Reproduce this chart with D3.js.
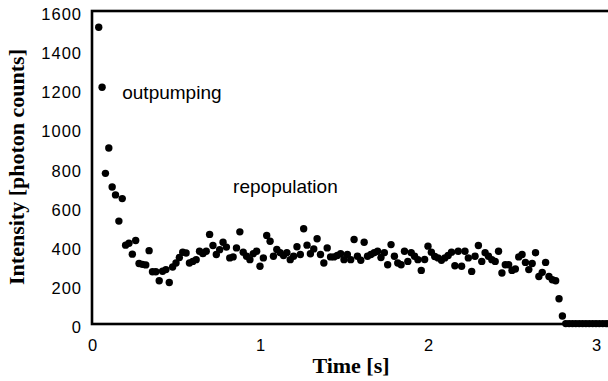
<!DOCTYPE html>
<html>
<head>
<meta charset="utf-8">
<script src="https://cdn.jsdelivr.net/npm/d3@7"></script>
<style>
  body { margin: 0; background: #fff; }
  svg { display: block; }
</style>
</head>
<body>
<div id="chart"></div>
<script>
// measured intensities, time in seconds
var time = [0.04, 0.06, 0.08, 0.10, 0.12, 0.14, 0.16, 0.18, 0.20, 0.22, 0.24, 0.26, 0.28, 0.30, 0.32, 0.34, 0.36, 0.38, 0.40, 0.42,
            0.44, 0.46, 0.48, 0.50, 0.52, 0.54, 0.56, 0.58, 0.60, 0.62, 0.64, 0.66, 0.68, 0.70, 0.72, 0.74, 0.76, 0.78, 0.80, 0.82,
            0.84, 0.86, 0.88, 0.90, 0.92, 0.94, 0.96, 0.98, 1.00, 1.02, 1.04, 1.06, 1.08, 1.10, 1.12, 1.14, 1.16, 1.18, 1.20, 1.22,
            1.24, 1.26, 1.28, 1.30, 1.32, 1.34, 1.36, 1.38, 1.40, 1.42, 1.44, 1.46, 1.48, 1.50, 1.52, 1.54, 1.56, 1.58, 1.60, 1.62,
            1.64, 1.66, 1.68, 1.70, 1.72, 1.74, 1.76, 1.78, 1.80, 1.82, 1.84, 1.86, 1.88, 1.90, 1.92, 1.94, 1.96, 1.98, 2.00, 2.02,
            2.04, 2.06, 2.08, 2.10, 2.12, 2.14, 2.16, 2.18, 2.20, 2.22, 2.24, 2.26, 2.28, 2.30, 2.32, 2.34, 2.36, 2.38, 2.40, 2.42,
            2.44, 2.46, 2.48, 2.50, 2.52, 2.54, 2.56, 2.58, 2.60, 2.62, 2.64, 2.66, 2.68, 2.70, 2.72, 2.74, 2.76, 2.78, 2.80, 2.82,
            2.84, 2.86, 2.88, 2.90, 2.92, 2.94, 2.96, 2.98, 3.00, 3.02, 3.04, 3.06, 3.08];
var intensity = [1517, 1210, 770, 900, 700, 660, 526, 641, 403, 413, 357, 427, 309, 305, 302, 375, 267, 267, 221, 270,
                 278, 212, 291, 312, 340, 367, 363, 312, 320, 329, 372, 360, 372, 458, 401, 355, 380, 418, 393, 338,
                 343, 389, 471, 367, 346, 329, 360, 372, 295, 338, 453, 423, 346, 381, 364, 350, 364, 329, 346, 395,
                 355, 487, 403, 359, 384, 436, 355, 312, 389, 343, 343, 350, 359, 329, 355, 329, 432, 346, 326, 418,
                 346, 355, 364, 372, 340, 364, 303, 406, 346, 312, 303, 372, 320, 364, 346, 329, 274, 330, 398, 367,
                 345, 338, 326, 338, 350, 367, 298, 372, 295, 372, 338, 269, 346, 401, 320, 364, 346, 329, 320, 372,
                 261, 303, 303, 274, 281, 343, 355, 315, 278, 309, 364, 243, 264, 315, 243, 226, 221, 129, 41, 2,
                 2, 2, 2, 2, 2, 2, 2, 2, 2, 2, 2, 2, 2];
var xTicks = [0, 1, 2, 3];
var yTicks = [0, 200, 400, 600, 800, 1000, 1200, 1400, 1600];
var notes = [
  { text: "outpumping", t: 0.18, v: 1150 },
  { text: "repopulation", t: 0.84, v: 670 }
];

var W = 608, H = 381;
var plotLeft = 92, plotTop = 11, plotBottom = 324;

var svg = d3.select("#chart").append("svg")
    .attr("width", W)
    .attr("height", H);

var x = d3.scaleLinear().domain([0, 3.1]).range([plotLeft, plotLeft + 168 * 3.1]);
var y = d3.scaleLinear().domain([0, 1600]).range([plotBottom, plotTop]);

// frame (right side runs off the picture)
svg.append("rect")
    .attr("x", plotLeft)
    .attr("y", plotTop)
    .attr("width", 540)
    .attr("height", plotBottom - plotTop)
    .attr("fill", "none")
    .attr("stroke", "#000")
    .attr("stroke-width", 2.6);

// y axis labels
var yAxis = svg.append("g")
    .attr("transform", "translate(" + plotLeft + ",0)")
    .call(d3.axisLeft(y).tickValues(yTicks).tickSize(0).tickPadding(10).tickFormat(d3.format("d")));
yAxis.select(".domain").remove();
yAxis.selectAll("text")
    .attr("dy", "0.52em")
    .style("font", "16.5px 'Liberation Sans', Arial, sans-serif")
    .style("letter-spacing", "1px")
    .attr("fill", "#000");

// x axis labels
var xAxis = svg.append("g")
    .attr("transform", "translate(0," + plotBottom + ")")
    .call(d3.axisBottom(x).tickValues(xTicks).tickSize(0).tickPadding(15).tickFormat(d3.format("d")));
xAxis.select(".domain").remove();
xAxis.selectAll("text")
    .style("font", "16.5px 'Liberation Sans', Arial, sans-serif")
    .attr("fill", "#000");

// points
svg.append("g").selectAll("circle")
    .data(time)
    .enter().append("circle")
    .attr("cx", function(d) { return x(d); })
    .attr("cy", function(d, i) { return y(intensity[i]); })
    .attr("r", 3.7)
    .attr("fill", "#000");

// annotations
svg.selectAll(".note")
    .data(notes)
    .enter().append("text")
    .attr("class", "note")
    .attr("x", function(d) { return x(d.t); })
    .attr("y", function(d) { return y(d.v); })
    .style("font", "19px 'Liberation Sans', Arial, sans-serif")
    .text(function(d) { return d.text; });

// axis titles
svg.append("text")
    .attr("text-anchor", "middle")
    .attr("transform", "translate(23.5,167) rotate(-90)")
    .style("font", "bold 22px 'Liberation Serif', 'Times New Roman', serif")
    .text("Intensity [photon counts]");

svg.append("text")
    .attr("text-anchor", "middle")
    .attr("x", 351)
    .attr("y", 373)
    .style("font", "bold 22px 'Liberation Serif', 'Times New Roman', serif")
    .text("Time [s]");
</script>
</body>
</html>
